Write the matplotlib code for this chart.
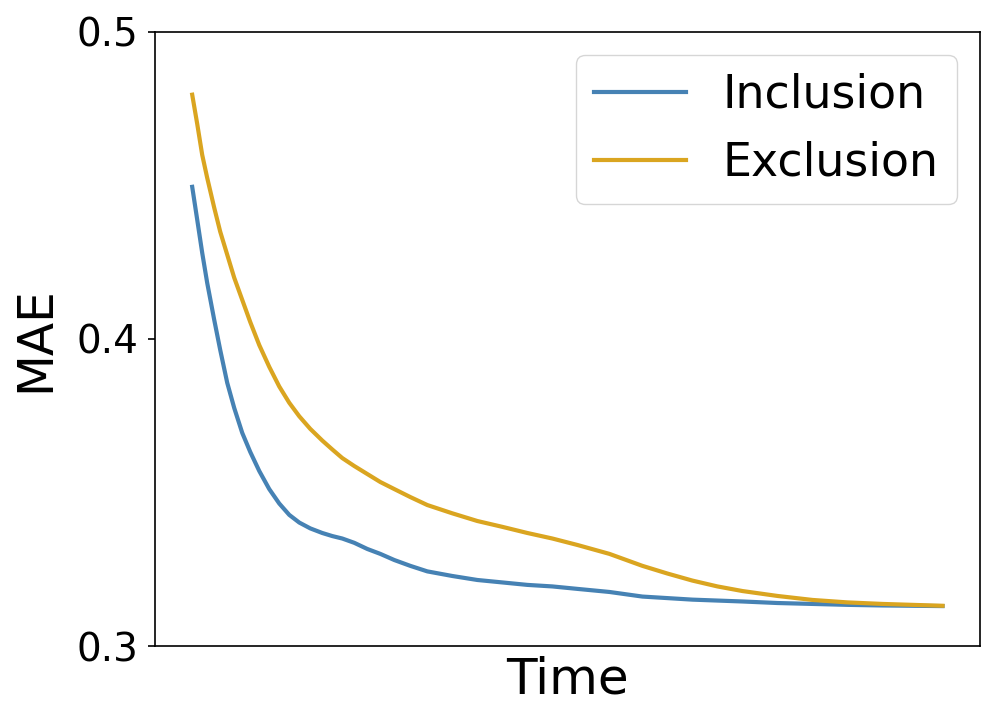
import matplotlib
matplotlib.use("Agg")
import matplotlib.pyplot as plt

# time axis (no tick labels in the original, so the unit is arbitrary)
time = [0, 0.2, 0.4, 0.6, 0.88, 1.12, 1.4, 1.68, 2, 2.32, 2.68, 3.08, 3.48,
        3.88, 4.28, 4.72, 5.2, 5.6, 6, 6.48, 7, 7.52, 8.08, 8.72, 9.4, 10.4,
        11.4, 12.4, 13.4, 14.4, 15.4, 16.68, 18, 19, 20, 21, 22, 23.4, 24.8,
        26.2, 27.6, 30]

inclusion = [0.4495, 0.4388, 0.4280, 0.4182, 0.4062, 0.3964, 0.3857, 0.3775,
             0.3694, 0.3632, 0.3570, 0.3511, 0.3464, 0.3427, 0.3402, 0.3383,
             0.3368, 0.3358, 0.3350, 0.3336, 0.3316, 0.3300, 0.3280, 0.3261,
             0.3243, 0.3228, 0.3215, 0.3207, 0.3199, 0.3194, 0.3186, 0.3176,
             0.3161, 0.3156, 0.3151, 0.3148, 0.3145, 0.3140, 0.3137, 0.3134,
             0.3132, 0.3130]

exclusion = [0.4795, 0.4700, 0.4599, 0.4524, 0.4427, 0.4349, 0.4274, 0.4199,
             0.4127, 0.4055, 0.3980, 0.3909, 0.3845, 0.3792, 0.3748, 0.3707,
             0.3669, 0.3640, 0.3612, 0.3586, 0.3560, 0.3534, 0.3511, 0.3485,
             0.3459, 0.3432, 0.3407, 0.3388, 0.3368, 0.3350, 0.3329, 0.3300,
             0.3261, 0.3236, 0.3213, 0.3194, 0.3179, 0.3163, 0.3150, 0.3142,
             0.3137, 0.3131]

yticks = [0.3, 0.4, 0.5]


fig = plt.figure(figsize=(9.98, 7.21), dpi=100)
ax = fig.add_axes([0.155, 0.104, 0.827, 0.852])

ax.plot(time, inclusion, color="steelblue", lw=3, label="Inclusion")
ax.plot(time, exclusion, color="goldenrod", lw=3, label="Exclusion")

ax.set_ylim(0.3, 0.5)
ax.set_yticks(yticks)
ax.set_yticklabels([f"{t:.1f}" for t in yticks])
ax.set_xticks([])
ax.tick_params(axis="y", labelsize=28, length=5, width=1.2, pad=7)
for s in ax.spines.values():
    s.set_linewidth(1.2)

ax.set_xlabel("Time", fontsize=36, labelpad=7)
ax.set_ylabel("MAE", fontsize=35, labelpad=12)
ax.legend(fontsize=33, loc="upper right")

fig.savefig("out.png", dpi=100)
